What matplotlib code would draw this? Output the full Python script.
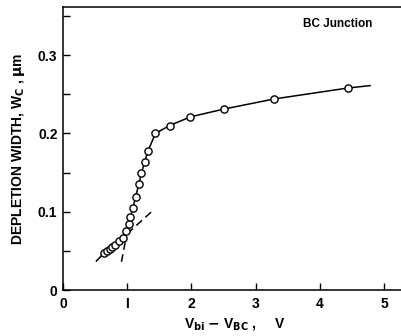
import numpy as np
import matplotlib.pyplot as plt
from matplotlib.ticker import MultipleLocator

plt.rcParams['font.family'] = ['Liberation Sans', 'DejaVu Sans']
plt.rcParams['font.weight'] = 'bold'
plt.rcParams['axes.labelweight'] = 'bold'
plt.rcParams['mathtext.default'] = 'bf'

# measured points (V_bi - V_BC, depletion width in um)
v = np.array([0.635, 0.69, 0.73, 0.77, 0.81, 0.87, 0.93, 0.976, 1.02, 1.045,
              1.09, 1.13, 1.18, 1.22, 1.27, 1.32, 1.44, 1.66, 1.98, 2.50, 3.29, 4.44])
w = np.array([0.047, 0.050, 0.0526, 0.055, 0.058, 0.063, 0.067, 0.075, 0.084, 0.093,
              0.105, 0.119, 0.135, 0.149, 0.163, 0.177, 0.200, 0.210, 0.221, 0.231, 0.244, 0.258])

# solid curve end points
v_start, w_start = 0.52, 0.037
v_end, w_end = 4.78, 0.261

# dashed asymptotes
low_v = [1.0, 1.42]
low_w = [0.072, 0.103]
steep_v = [0.91, 0.98]
steep_w = [0.036, 0.066]

fig = plt.figure(figsize=(4.02, 3.36), dpi=100)
ax = fig.add_axes([63/402, 1 - 290/336, 1 - 63/402 + 0.01, (290 - 7)/336])

cx = np.concatenate([[v_start], v, [v_end]])
cy = np.concatenate([[w_start], w, [w_end]])
ax.plot(cx, cy, color='black', lw=1.1, zorder=2)
ax.plot(v, w, 'o', mfc='white', mec='black', ms=5.2, mew=1.0, zorder=3)
ax.plot(low_v, low_w, color='black', lw=1.1, dashes=(5, 3))
ax.plot(steep_v, steep_w, color='black', lw=1.1, dashes=(5, 3))

ax.set_xlim(0, 5.34)
ax.set_ylim(0, 0.3614)
ax.set_xticks([0, 1, 2, 3, 4, 5])
ax.set_xticklabels(['0', 'I', '2', '3', '4', '5'])
ax.set_yticks([0, 0.1, 0.2, 0.3])
ax.set_yticklabels(['0', '0.1', '0.2', '0.3'])
ax.yaxis.set_minor_locator(MultipleLocator(0.05))
ax.tick_params(axis='both', which='both', direction='in', length=5, width=1.0,
               labelsize=10)
ax.tick_params(axis='x', pad=5)
ax.tick_params(axis='y', pad=4)
ax.spines['right'].set_visible(False)
for s in ['left', 'bottom', 'top']:
    ax.spines[s].set_linewidth(1.1)

ax.set_xlabel(r'V$_{bi}$ $-$ V$_{BC}$ ,     V', fontsize=10, fontweight='bold', labelpad=4)
ax.set_ylabel(r'DEPLETION WIDTH, W$_{C}$ , $\mu$m', fontsize=10, fontweight='bold', labelpad=8)
ax.text(0.70, 0.94, 'BC Junction', transform=ax.transAxes, fontsize=8.5,
        fontweight='bold', ha='left', va='center')

fig.savefig('out.png', dpi=100)
